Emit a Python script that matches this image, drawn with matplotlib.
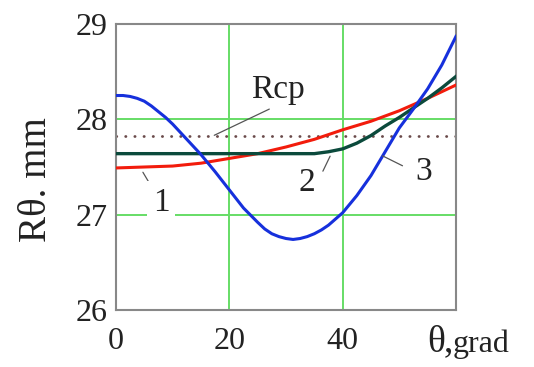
import numpy as np
import matplotlib
matplotlib.use("Agg")
import matplotlib.pyplot as plt

plt.rcParams['font.family'] = ['Liberation Serif', 'DejaVu Serif']

# values
theta_1 = [0, 5, 10, 15, 20, 25, 30, 35, 40, 45, 50, 55, 60]
r_1 = [27.49, 27.50, 27.51, 27.54, 27.59, 27.64, 27.71, 27.79, 27.89, 27.98, 28.09, 28.22, 28.36]

theta_2 = [0, 5, 10, 15, 20, 25, 30, 35, 37.5, 40, 42.5, 45, 47.5, 50, 52.5, 55, 57.5, 60]
r_2 = [27.64, 27.64, 27.64, 27.64, 27.64, 27.64, 27.64, 27.64, 27.66, 27.69, 27.75, 27.83,
       27.93, 28.02, 28.12, 28.22, 28.33, 28.45]

theta_3 = [0, 1.25, 2.5, 3.75, 5, 6.25, 7.5, 8.75, 10, 12.5, 15, 17.5, 20, 22.5, 25, 26.25,
           27.5, 28.75, 30, 31.25, 32.5, 33.75, 35, 36.25, 37.5, 40, 42.5, 45, 47.5, 50,
           52.5, 55, 57.5, 60]
r_3 = [28.25, 28.25, 28.24, 28.22, 28.19, 28.14, 28.08, 28.02, 27.95, 27.79, 27.63, 27.45,
       27.26, 27.07, 26.92, 26.85, 26.80, 26.77, 26.75, 26.74, 26.75, 26.77, 26.80, 26.84,
       26.89, 27.02, 27.20, 27.41, 27.66, 27.91, 28.11, 28.32, 28.57, 28.87]

r_cp = 27.82

x_ticks = [0, 20, 40, 60]
x_ticklabels = ['0', '20', '40', '']
y_ticks = [26, 27, 28, 29]

# curve labels: text, text position, leader start, leader end
labels = [
    ('Rcp', (28.6, 28.31), (16.9, 27.82), (27.5, 28.12)),
    ('1', (8.0, 27.13), (4.5, 27.47), (6.6, 27.26)),
    ('2', (33.6, 27.33), (38.0, 27.64), (36.3, 27.43)),
    ('3', (54.3, 27.45), (46.6, 27.63), (51.0, 27.50)),
]

fig = plt.figure(figsize=(5.34, 3.67), dpi=100)
ax = fig.add_axes([0.2172, 0.1553, 0.6367, 0.7793])

ax.plot(theta_1, r_1, color='#f21c0c', lw=2.2, zorder=3)
ax.plot(theta_2, r_2, color='#0b4a3c', lw=2.4, zorder=4)
ax.plot(theta_3, r_3, color='#1630dc', lw=2.2, zorder=5)
ax.axhline(r_cp, color='#6a4a4a', lw=2, ls=(0, (0.1, 3.2)), dash_capstyle='round', zorder=2)

for txt, pos, p0, p1 in labels:
    ax.annotate('', xy=p1, xytext=p0,
                arrowprops=dict(arrowstyle='-', color='#555555', lw=0.9), zorder=6)
    box = dict(fc='white', ec='none', pad=4) if txt == '1' else None
    ax.text(pos[0], pos[1], txt, fontsize=24, ha='center', va='center', color='#222222',
            bbox=box, zorder=7)

ax.set_xlim(0, 60)
ax.set_ylim(26, 29)
ax.set_xticks(x_ticks)
ax.set_xticklabels(x_ticklabels)
ax.set_yticks(y_ticks)
ax.tick_params(length=0, labelsize=23, colors='#222222')
ax.tick_params(axis='x', pad=12)
ax.tick_params(axis='y', pad=6)
ax.grid(True, color='#66dd66', lw=1.4, zorder=1)
ax.set_axisbelow(True)
for s in ax.spines.values():
    s.set_color('#888888')
    s.set_linewidth(1.5)

ax.set_ylabel('Rθ. mm', fontsize=28, color='#222222')
ax.yaxis.set_label_coords(-0.18, 0.455)
fig.text(0.800, 0.042, 'θ', fontsize=27, ha='left', va='baseline', color='#222222')
fig.text(0.831, 0.042, ',', fontsize=27, ha='left', va='baseline', color='#222222')
fig.text(0.848, 0.042, 'grad', fontsize=23, ha='left', va='baseline', color='#222222')

fig.savefig('out.png', dpi=100)
